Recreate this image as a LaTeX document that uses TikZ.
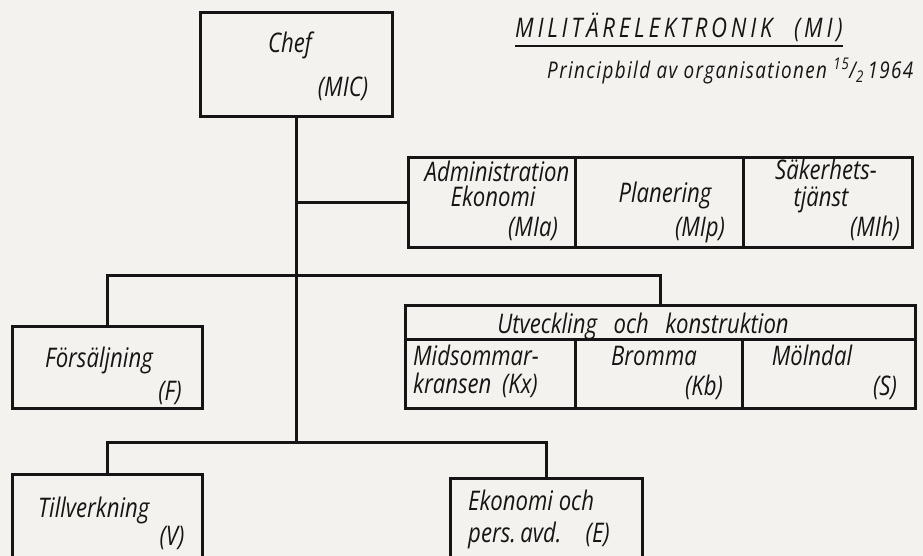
\documentclass[tikz,border=0pt]{standalone}
\usepackage{fontspec}
\setmainfont{Open Sans}[FakeStretch=0.82]
\definecolor{bg}{HTML}{F3F2EE}
\definecolor{ink}{HTML}{151515}
\begin{document}
\begin{tikzpicture}[x=1pt,y=-1pt,
  box/.style={draw=ink, line width=3pt, rectangle, inner sep=0pt},
  wire/.style={draw=ink, line width=3pt},
  txt/.style={text=ink, inner sep=0pt, text height=19pt, text depth=0pt, font=\itshape\fontsize{27}{27}\selectfont},
  ttl/.style={text=ink, inner sep=0pt, font=\itshape\fontsize{27}{27}\selectfont\addfontfeature{LetterSpace=14}},
  sub/.style={text=ink, inner sep=0pt, font=\itshape\fontsize{23}{23}\selectfont\addfontfeature{LetterSpace=6}}]
\fill[bg] (0,0) rectangle (923,556);
\useasboundingbox (0,0) rectangle (923,556);

% boxes
\node[box, minimum width=192pt, minimum height=104pt] (chef) at (296,65) {};
\node[box, minimum width=167pt, minimum height=89pt] (adm) at (491.5,202.5) {};
\node[box, minimum width=168pt, minimum height=89pt] (plan) at (659,202.5) {};
\node[box, minimum width=169pt, minimum height=89pt] (sak) at (827.5,202.5) {};
\node[box, minimum width=190pt, minimum height=82pt] (fors) at (107,367) {};
\node[box, minimum width=510pt, minimum height=34pt] (utv) at (660,322) {};
\node[box, minimum width=170pt, minimum height=69pt] (mid) at (490,373.5) {};
\node[box, minimum width=167pt, minimum height=69pt] (brom) at (658.5,373.5) {};
\node[box, minimum width=173pt, minimum height=69pt] (moln) at (828.5,373.5) {};
\node[box, minimum width=190pt, minimum height=96pt] (till) at (107,522) {};
\node[box, minimum width=192pt, minimum height=92pt] (ekon) at (546,524) {};

% connectors
\coordinate (ja) at (chef.south |- adm.west);
\coordinate (jb) at (296,275);
\coordinate (jc) at (296,442);
\draw[wire] (chef.south) -- (jc);
\draw[wire] (ja) -- (adm.west);
\draw[wire] (fors.north) |- (jb) -| (utv.north);
\draw[wire] (till.north) |- (jc) -| (ekon.north);

% title
\node[ttl, anchor=base west] (title) at (515,38) {MILITÄRELEKTRONIK\hspace{0.8em}(MI)};
\draw[ink, line width=2pt] ([yshift=-8pt]title.base west) -- ([yshift=-8pt]title.base east);
\node[sub, anchor=base west] (subt) at (547,79) {Principbild av organisationen \textsuperscript{15}/\textsubscript{2}\,1964};

% texts
\node[txt, anchor=base] (t1) at (290,53) {Chef};
\node[txt, anchor=base] (t2) at (343,97) {(MIC)};
\node[txt, anchor=base] (t3) at (497,182) {Administration};
\node[txt, anchor=base] (t4) at (493,207) {Ekonomi};
\node[txt, anchor=base] (t5) at (533,236) {(MIa)};
\node[txt, anchor=base] (t6) at (665,203) {Planering};
\node[txt, anchor=base] (t7) at (700,236) {(MIp)};
\node[txt, anchor=base] (t8) at (826,180) {Säkerhets-};
\node[txt, anchor=base] (t9) at (821,207) {tjänst};
\node[txt, anchor=base] (t10) at (875,236) {(MIh)};
\node[txt, anchor=base] (t11) at (643,333) {Utveckling\hspace{0.4em} och\hspace{0.4em} konstruktion};
\node[txt, anchor=base west] (t12) at (413,365) {Midsommar-};
\node[txt, anchor=base west] (t13) at (413,393) {kransen\hspace{0.4em}(Kx)};
\node[txt, anchor=base] (t14) at (654,365) {Bromma};
\node[txt, anchor=base] (t15) at (704,395) {(Kb)};
\node[txt, anchor=base] (t16) at (812,365) {Mölndal};
\node[txt, anchor=base] (t17) at (885,395) {(S)};
\node[txt, anchor=base west] (t18) at (45,367) {Försäljning};
\node[txt, anchor=base] (t19) at (170,400) {(F)};
\node[txt, anchor=base west] (t20) at (38,517) {Tillverkning};
\node[txt, anchor=base] (t21) at (172,545) {(V)};
\node[txt, anchor=base west] (t22) at (468,510) {Ekonomi och};
\node[txt, anchor=base west] (t23) at (468,542) {pers.\,avd.\hspace{0.9em}(E)};
\end{tikzpicture}
\end{document}
